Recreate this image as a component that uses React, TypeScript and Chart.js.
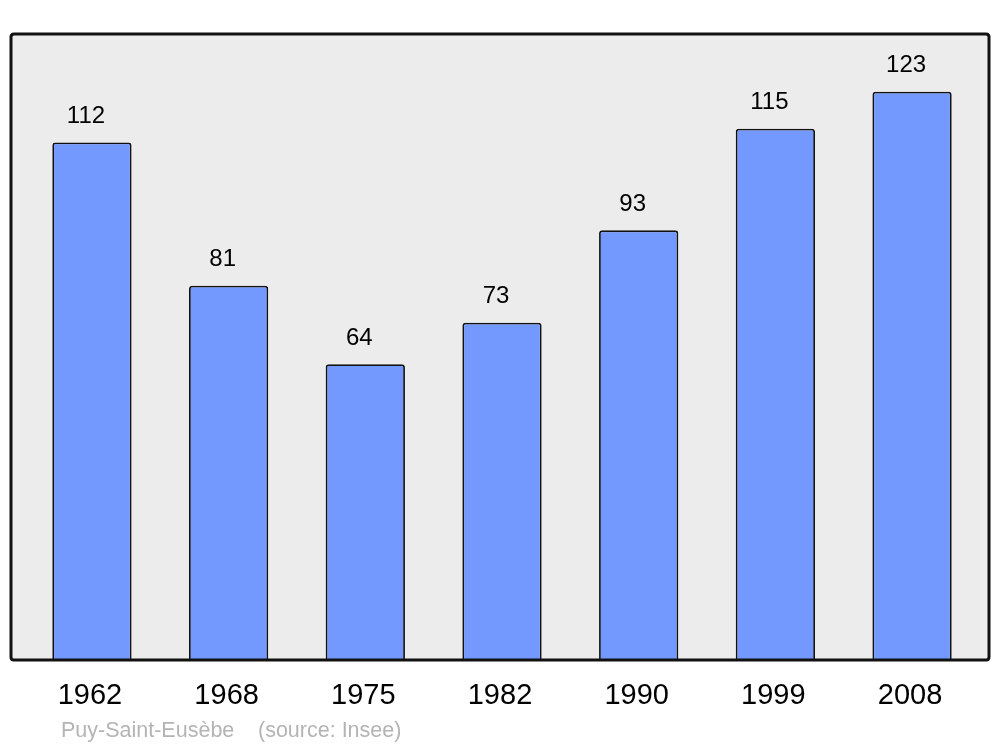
import React, { useEffect, useRef } from "react";
import { Chart, registerables } from "chart.js";

Chart.register(...registerables);

const years: string[] = ["1962", "1968", "1975", "1982", "1990", "1999", "2008"];
const population: number[] = [112, 81, 64, 73, 93, 115, 123];
const footerName = "Puy-Saint-Eusèbe";
const footerSource = "(source: Insee)";

const FONT = '"Liberation Sans", Arial, sans-serif';

function framePath(ctx: CanvasRenderingContext2D) {
  const x0 = 11, y0 = 34, x1 = 989, y1 = 660, r = 3;
  ctx.beginPath();
  ctx.moveTo(x0 + r, y0);
  ctx.lineTo(x1 - r, y0);
  ctx.quadraticCurveTo(x1, y0, x1, y0 + r);
  ctx.lineTo(x1, y1 - r);
  ctx.quadraticCurveTo(x1, y1, x1 - r, y1);
  ctx.lineTo(x0 + r, y1);
  ctx.quadraticCurveTo(x0, y1, x0, y1 - r);
  ctx.lineTo(x0, y0 + r);
  ctx.quadraticCurveTo(x0, y0, x0 + r, y0);
  ctx.closePath();
}

const decorPlugin = {
  id: "decor",
  beforeDraw(chart: any) {
    const ctx = chart.ctx;
    ctx.save();
    framePath(ctx);
    ctx.fillStyle = "#ececec";
    ctx.fill();
    ctx.restore();
  },
  afterDatasetsDraw(chart: any) {
    const ctx = chart.ctx;
    const xs = chart.scales.x;
    const ys = chart.scales.y;
    ctx.save();
    framePath(ctx);
    ctx.lineWidth = 3;
    ctx.strokeStyle = "#111111";
    ctx.stroke();

    ctx.textAlign = "center";
    ctx.textBaseline = "middle";
    ctx.fillStyle = "#000000";
    ctx.font = `24px ${FONT}`;
    population.forEach((v, i) => {
      const x = xs.getPixelForValue(i);
      const y = ys.getPixelForValue(v);
      ctx.fillText(String(v), x - 6, y - 26);
    });
    ctx.font = `29px ${FONT}`;
    years.forEach((yr, i) => {
      const x = xs.getPixelForValue(i);
      ctx.fillText(yr, x - 2, 696);
    });
    ctx.textAlign = "left";
    ctx.fillStyle = "#b4b4b4";
    ctx.font = `21.5px ${FONT}`;
    ctx.fillText(footerName, 61, 731);
    ctx.fillText(footerSource, 258, 731);
    ctx.restore();
  },
};

export default function App() {
  const ref = useRef<HTMLCanvasElement | null>(null);
  useEffect(() => {
    if (!ref.current) return;
    const chart = new Chart(ref.current, {
      type: "bar",
      data: {
        labels: years,
        datasets: [
          {
            data: population,
            backgroundColor: "#7399ff",
            borderColor: "#111111",
            borderWidth: 1.8,
            borderRadius: 3,
            borderSkipped: "start",
            categoryPercentage: 1,
            barPercentage: 0.58,
          },
        ],
      },
      options: {
        animation: false,
        responsive: false,
        maintainAspectRatio: false,
        layout: { padding: { left: 23.6, right: 19.6, top: 34, bottom: 87 } },
        plugins: { legend: { display: false }, tooltip: { enabled: false } },
        scales: {
          x: { display: false },
          y: { display: false, min: 0, max: 135.5 },
        },
      },
      plugins: [decorPlugin],
    });
    return () => chart.destroy();
  }, []);
  return (
    <div style={{ position: "absolute", left: 0, top: 0, width: 1000, height: 747, background: "#ffffff" }}>
      <canvas ref={ref} width={1000} height={747} style={{ width: 1000, height: 747 }} />
    </div>
  );
}
